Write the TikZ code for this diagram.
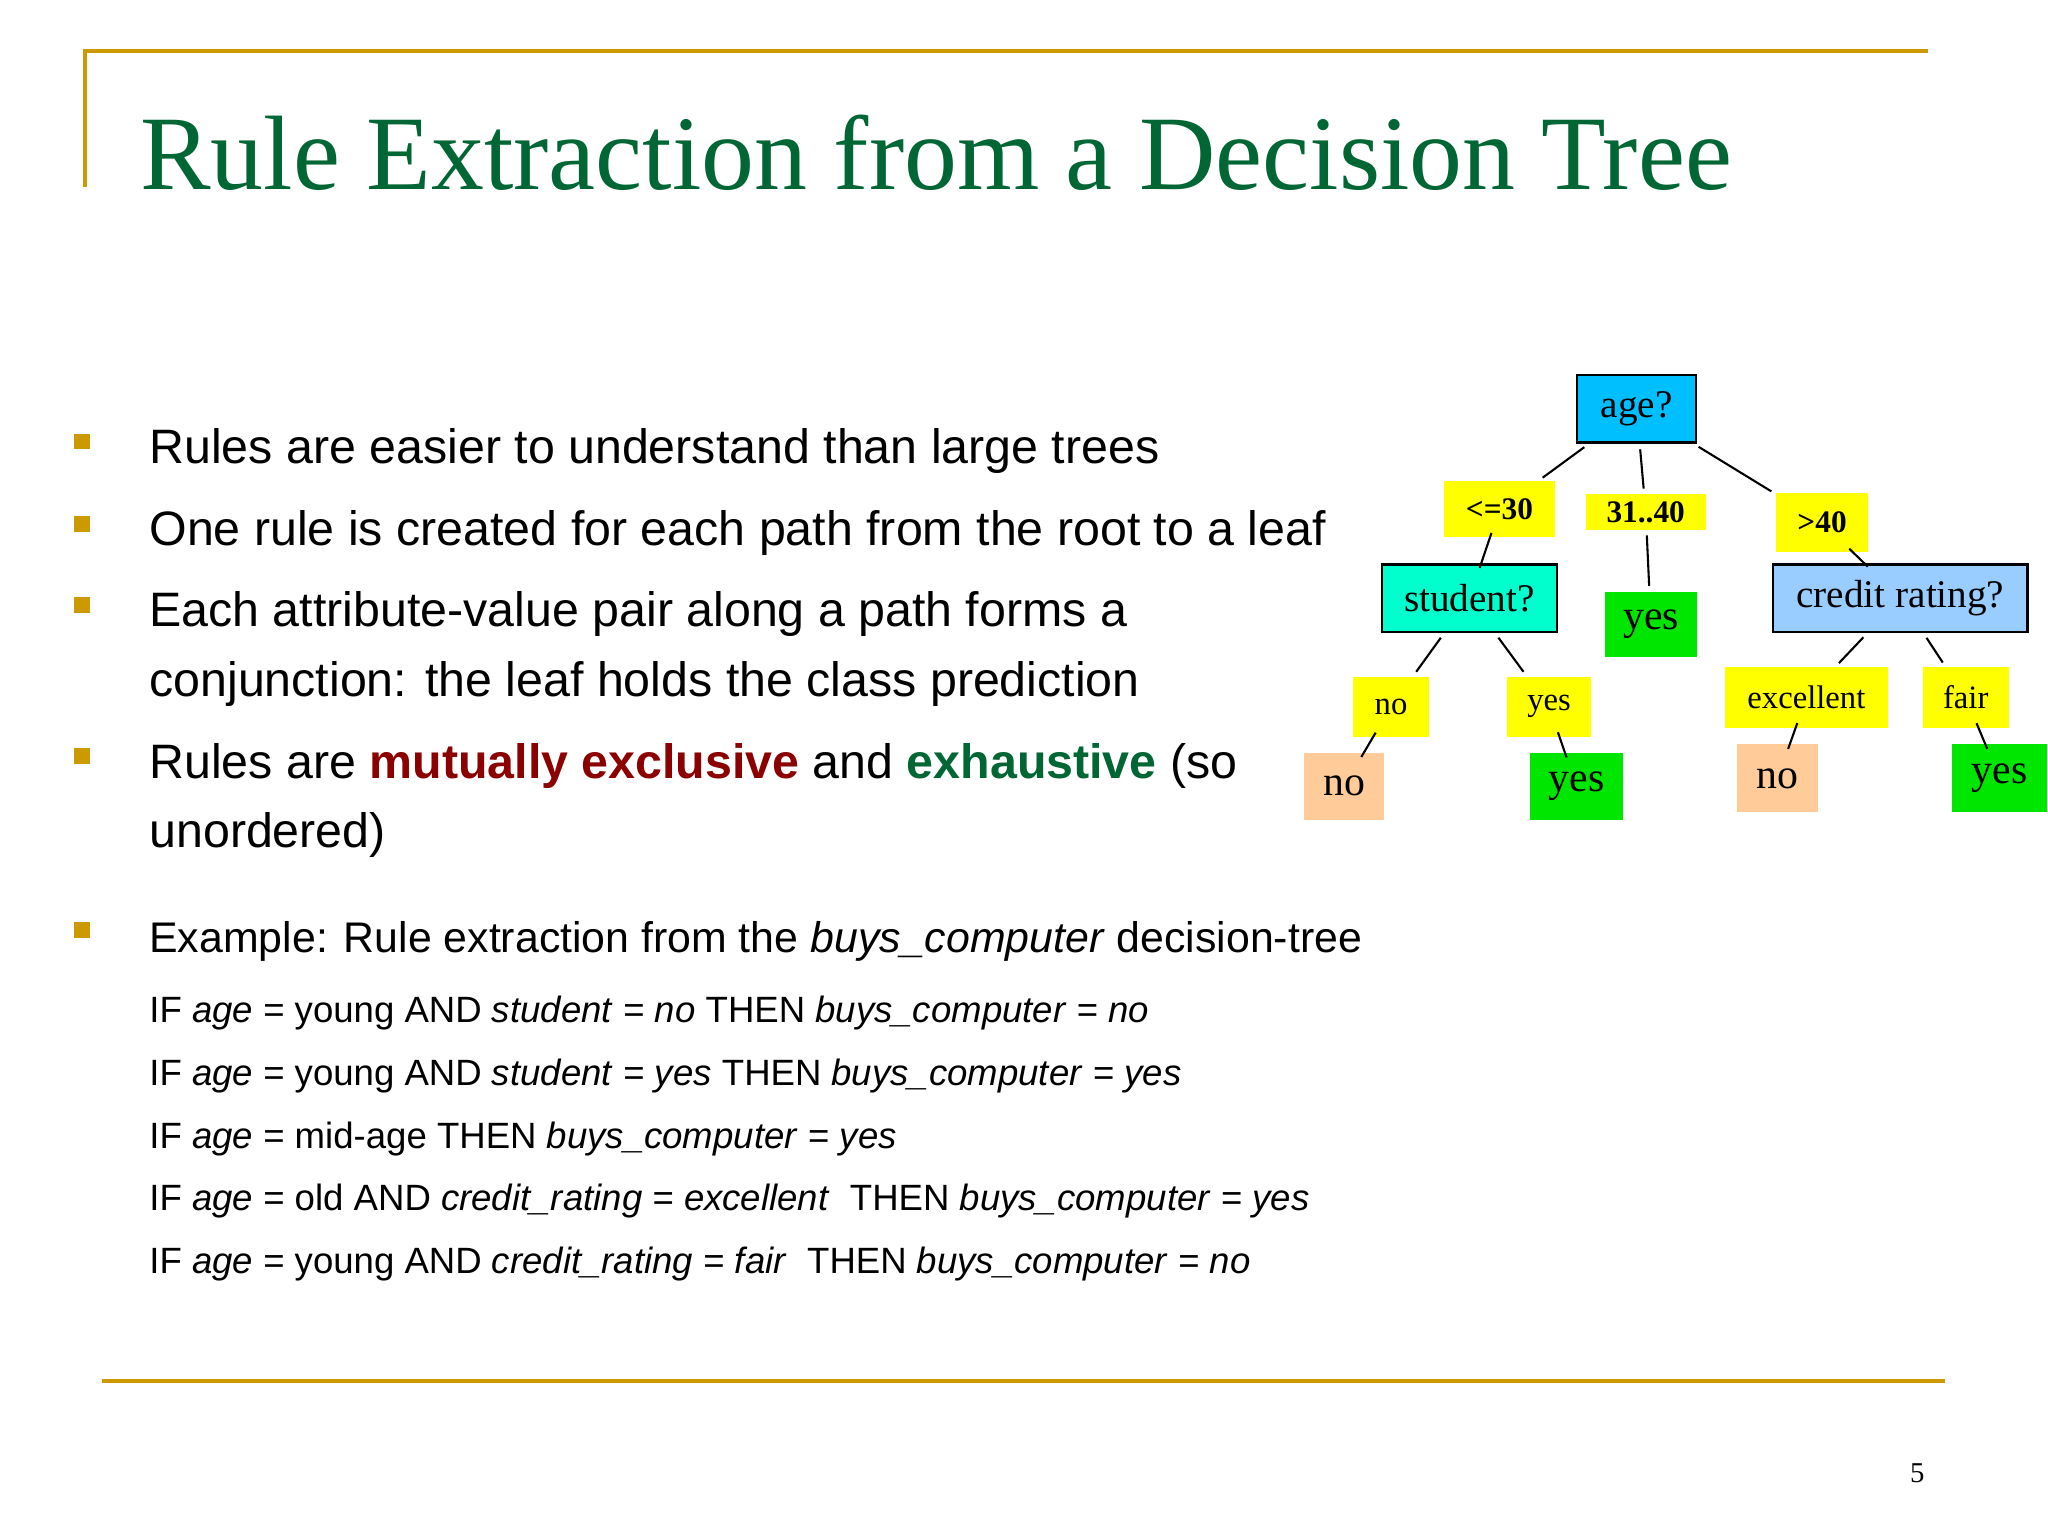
\documentclass[tikz,border=0pt]{standalone}
\usepackage{fontspec}
\setmainfont{Liberation Sans}
\newfontfamily\serif{Liberation Serif}
\definecolor{gold}{RGB}{204,153,0}
\definecolor{ttl}{RGB}{0,102,51}
\definecolor{dred}{RGB}{139,0,0}
\definecolor{cy}{RGB}{0,191,255}
\definecolor{aq}{RGB}{0,255,204}
\definecolor{lb}{RGB}{153,204,255}
\definecolor{yl}{RGB}{255,255,0}
\definecolor{gr}{RGB}{0,230,0}
\definecolor{pe}{RGB}{255,204,153}
\begin{document}
\begin{tikzpicture}[x=0.5pt,y=-0.5pt,
  bul/.style={fill=gold,minimum size=6pt,inner sep=0pt},
  txt/.style={anchor=base west,inner sep=0pt,font=\fontsize{18.5}{22}\selectfont},
  rule/.style={anchor=base west,inner sep=0pt,font=\fontsize{14}{17}\selectfont},
  tn/.style={inner sep=0pt,font=\serif\fontsize{15}{18}\selectfont},
  lab/.style={inner sep=0pt,fill=yl,font=\serif\bfseries\fontsize{12}{14}\selectfont},
  edge/.style={draw,line width=0.8pt,shorten <=2pt,shorten >=2pt},
  sedge/.style={draw,line width=0.8pt,shorten <=-2pt,shorten >=-2pt}]
\useasboundingbox (0,0) rectangle (1568,1176);
\fill[white] (0,0) rectangle (1568,1176);
% frame
\draw[gold,line width=1.5pt] (65,143) -- (65,39) -- (1476,39);
\draw[gold,line width=1.5pt] (78,1057) -- (1489,1057);
\node[anchor=base,font=\serif\fontsize{11}{13}\selectfont] (pg) at (1468,1135) {5};
\node[anchor=base west,inner sep=0pt,text=ttl,font=\serif\fontsize{40.5}{48}\selectfont] (title) at (107,145) {Rule Extraction from a Decision Tree};
% bullets
\foreach \y/\n in {338/b1,401/b2,463/b3,579/b4,712/b5} \node[bul] (\n) at (63,\y) {};
\node[txt] (t1) at (114,355) {Rules are easier to understand than large trees};
\node[txt] (t2) at (114,418) {One rule is created for each path from the root to a leaf};
\node[txt] (t3) at (114,480) {Each attribute-value pair along a path forms a};
\node[txt] (t3b) at (114,533) {conjunction: the leaf holds the class prediction};
\node[txt] (t4) at (114,596) {Rules are \textbf{\textcolor{dred}{mutually exclusive}} and \textbf{\textcolor{ttl}{exhaustive}} (so};
\node[txt] (t4b) at (114,649) {unordered)};
\node[txt,font=\fontsize{16.4}{20}\selectfont] (t5) at (114,729) {Example: Rule extraction from the \textit{buys\_computer} decision-tree};
\node[rule] (r1) at (114,783) {IF \textit{age} = young AND \textit{student} = \textit{no} THEN \textit{buys\_computer} = \textit{no}};
\node[rule] (r2) at (114,831) {IF \textit{age} = young AND \textit{student} = \textit{yes} THEN \textit{buys\_computer} = \textit{yes}};
\node[rule] (r3) at (114,879) {IF \textit{age} = mid-age THEN \textit{buys\_computer} = \textit{yes}};
\node[rule] (r4) at (114,927) {IF \textit{age} = old AND \textit{credit\_rating} = \textit{excellent}\ \ THEN \textit{buys\_computer} = \textit{yes}};
\node[rule] (r5) at (114,975) {IF \textit{age} = young AND \textit{credit\_rating} = \textit{fair}\ \ THEN \textit{buys\_computer} = \textit{no}};
% tree
\node[tn,draw,line width=1pt,fill=cy,minimum width=45.5pt,minimum height=26pt] (age) at (1253,313) {age?};
\node[lab,minimum width=42.5pt,minimum height=21.5pt] (l1) at (1148,390) {<=30};
\node[lab,minimum width=46pt,minimum height=13.5pt] (l2) at (1260,392) {31..40};
\node[lab,minimum width=35pt,minimum height=22.5pt] (l3) at (1395,400) {>40};
\node[tn,draw,line width=1pt,fill=aq,minimum width=67pt,minimum height=26pt] (stu) at (1125,458) {student?};
\node[tn,fill=gr,font=\serif\fontsize{16}{18}\selectfont,minimum width=35pt,minimum height=25pt] (y1) at (1264,478) {yes};
\node[tn,draw,line width=1pt,fill=lb,minimum width=97.5pt,minimum height=26pt] (cr) at (1455,458) {credit rating?};
\node[tn,fill=yl,font=\serif\fontsize{12.5}{14}\selectfont,minimum width=29pt,minimum height=23pt] (sn) at (1065,541) {no};
\node[tn,fill=yl,font=\serif\fontsize{12.5}{14}\selectfont,minimum width=32pt,minimum height=23pt] (sy) at (1186,541) {yes};
\node[tn,fill=yl,font=\serif\fontsize{12.5}{14}\selectfont,minimum width=62.5pt,minimum height=23pt] (ce) at (1383,534) {excellent};
\node[tn,fill=yl,font=\serif\fontsize{12.5}{14}\selectfont,minimum width=33pt,minimum height=23pt] (cf) at (1505,534) {fair};
\node[tn,fill=pe,font=\serif\fontsize{16}{18}\selectfont,minimum width=30.5pt,minimum height=25.5pt] (n1) at (1029,602) {no};
\node[tn,fill=gr,font=\serif\fontsize{16}{18}\selectfont,minimum width=35.5pt,minimum height=25.5pt] (y2) at (1207,602) {yes};
\node[tn,fill=pe,font=\serif\fontsize{16}{18}\selectfont,minimum width=31pt,minimum height=26pt] (n2) at (1361,596) {no};
\node[tn,fill=gr,font=\serif\fontsize{16}{18}\selectfont,minimum width=36.5pt,minimum height=26pt] (y3) at (1531,596) {yes};
\path[edge] (age) -- (l1);
\path[edge] (age) -- (l2);
\path[edge] (age) -- (l3);
\path[sedge] (l1) -- (stu);
\path[edge] (l2) -- (y1);
\path[sedge] (l3) -- (cr);
\path[edge] (stu) -- (sn);
\path[edge] (stu) -- (sy);
\path[edge] (cr) -- (ce);
\path[edge] (cr) -- (cf);
\path[sedge] (sn) -- (n1);
\path[sedge] (sy) -- (y2);
\path[sedge] (ce) -- (n2);
\path[sedge] (cf) -- (y3);
\end{tikzpicture}
\end{document}
